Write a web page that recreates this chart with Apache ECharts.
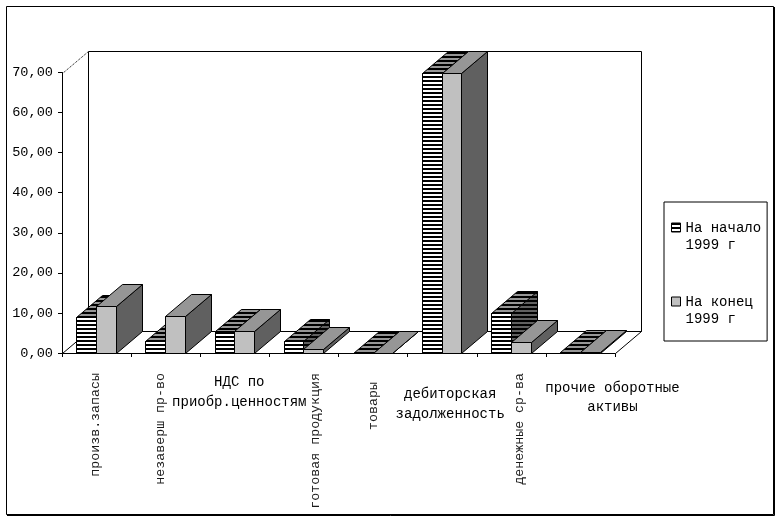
<!DOCTYPE html>
<html><head><meta charset="utf-8">
<script src="https://cdn.jsdelivr.net/npm/echarts/dist/echarts.min.js"></script>
<style>html,body{margin:0;padding:0;background:#fff}#c{width:781px;height:521px}</style>
</head><body><div id="c"></div><script>
// ---- data ----
const categories = ['произв.запасы', 'незаверш пр-во', 'НДС по\nприобр.ценностям', 'готовая продукция', 'товары', 'дебиторская\nзадолженность', 'денежные ср-ва', 'прочие оборотные\nактивы'];
const seriesNames = ['На начало\n1999 г', 'На конец\n1999 г'];
const startValues = [8.9, 3.1, 5.5, 3.0, 0.1, 69.9, 9.9, 0.3];
const endValues = [11.7, 9.2, 5.4, 0.9, 0.1, 69.8, 2.8, 0.2];
const yMin = 0, yMax = 70, yStep = 10;

// ---- layout / style ----
const rotatedLabels = [true, true, false, true, true, false, true, false];
const FONT = 'Liberation Mono';
const DX = 26, DY = -22, BAR_FRAC = 0.285;
const rotRich = {
  r0: {padding: [0, 0, 3, 0]}, r1: {padding: [0, 0, 11, 0]}, r3: {padding: [23, 0, 0, 0]},
  r4: {padding: [0, 9, 0, 0]}, r6: {padding: [16, 0, 0, 0]}
};
const horRich = {
  h2: {lineHeight: 20, padding: [0, 0, 0, 9]},
  h5: {lineHeight: 20, padding: [24, 0, 0, 16]},
  h7: {lineHeight: 19, padding: [14, 0, 0, 64]}
};
const legendRich = {t: {lineHeight: 17, padding: [18, 0, 0, 0]}};

function stripe(c1, c2) {
  const cv = document.createElement('canvas'); cv.width = 4; cv.height = 4;
  const g = cv.getContext('2d');
  g.fillStyle = c2; g.fillRect(0, 0, 4, 4);
  g.fillStyle = c1; g.fillRect(0, 0, 4, 2);
  return {image: cv, repeat: 'repeat'};
}
const faces = [
  {front: stripe('#000', '#fff'), top: stripe('#000', '#969696'), side: stripe('#000', '#606060')},
  {front: '#c0c0c0', top: '#969696', side: '#606060'}
];
const px = v => Math.round(v) + 0.5;

function barRenderer(si) {
  const f = faces[si];
  return function (params, api) {
    const idx = api.value(0), v = api.value(1);
    const p0 = api.coord([idx, 0]);
    const p1 = api.coord([idx, v]);
    const band = api.size([1, 0])[0];
    const w = band * BAR_FRAC;
    const xc = p0[0] - 0.5;
    const x0 = px(si === 0 ? xc - w : xc);
    const x1 = px(si === 0 ? xc : xc + w);
    const yb = px(p0[1]), yt = px(p1[1]);
    const st = {stroke: '#000', lineWidth: 1};
    return {type: 'group', children: [
      {type: 'polygon', shape: {points: [[x1, yt], [x1 + DX, yt + DY], [x1 + DX, yb + DY], [x1, yb]]}, style: Object.assign({fill: f.side}, st)},
      {type: 'polygon', shape: {points: [[x0, yt], [x0 + DX, yt + DY], [x1 + DX, yt + DY], [x1, yt]]}, style: Object.assign({fill: f.top}, st)},
      {type: 'polygon', shape: {points: [[x0, yt], [x1, yt], [x1, yb], [x0, yb]]}, style: Object.assign({fill: f.front}, st)}
    ]};
  };
}

function wallRenderer(params, api) {
  const cs = params.coordSys;
  const x = px(cs.x), y = px(cs.y), x2 = px(cs.x + cs.width), y2 = px(cs.y + cs.height);
  const st = {stroke: '#000', lineWidth: 1, fill: '#fff'};
  return {type: 'group', children: [
    {type: 'polygon', shape: {points: [[x + DX, y + DY], [x2 + DX, y + DY], [x2 + DX, y2 + DY], [x + DX, y2 + DY]]}, style: st},
    {type: 'polygon', shape: {points: [[x, y2], [x2, y2], [x2 + DX, y2 + DY], [x + DX, y2 + DY]]}, style: st},
    {type: 'line', shape: {x1: x, y1: y, x2: x + DX, y2: y + DY}, style: {stroke: '#000', lineWidth: 1, lineDash: [1, 1]}}
  ]};
}

const chart = echarts.init(document.getElementById('c'));
chart.setOption({
  animation: false,
  backgroundColor: '#fff',
  graphic: [
    {type: 'rect', shape: {x: 6.5, y: 6.5, width: 767, height: 508}, style: {fill: 'none', stroke: '#000', lineWidth: 1}, silent: true},
    {type: 'polyline', shape: {points: [[774.5, 7], [774.5, 515.5], [7, 515.5]]}, style: {fill: 'none', stroke: '#000', lineWidth: 1}, silent: true}
  ],
  grid: {left: 62, right: 166, top: 72.5, bottom: 168},
  legend: {
    orient: 'vertical', left: 664, top: 202, icon: 'rect', itemWidth: 9, itemHeight: 9, itemGap: 25,
    padding: [1, 6, 15, 7], borderColor: '#000', borderWidth: 1, selectedMode: false,
    formatter: name => name.split('\n').map(s => '{t|' + s + '}').join('\n'),
    textStyle: {fontFamily: FONT, fontSize: 14, color: '#000', lineHeight: 17, rich: legendRich},
    data: [
      {name: seriesNames[0], itemStyle: {color: faces[0].front, borderColor: '#000', borderWidth: 1}},
      {name: seriesNames[1], itemStyle: {color: '#c0c0c0', borderColor: '#000', borderWidth: 1}}
    ]
  },
  xAxis: [
    {type: 'category', data: categories, position: 'bottom',
     axisLine: {lineStyle: {color: '#000', width: 1}},
     axisTick: {show: true, length: 4, lineStyle: {color: '#000'}},
     axisLabel: {interval: 0, rotate: 90, margin: 20, fontFamily: FONT, fontSize: 13.3, color: '#1a1a1a',
       formatter: (v, i) => rotatedLabels[i] ? '{r' + i + '|' + v + '}' : '', rich: rotRich},
     splitLine: {show: false}},
    {type: 'category', data: categories, position: 'bottom',
     axisLine: {show: false}, axisTick: {show: false},
     axisLabel: {interval: 0, rotate: 0, margin: 19, fontFamily: FONT, fontSize: 14, color: '#000',
       formatter: (v, i) => rotatedLabels[i] ? '' : v.split('\n').map(s => '{h' + i + '|' + s + '}').join('\n'), rich: horRich},
     splitLine: {show: false}}
  ],
  yAxis: {
    type: 'value', min: yMin, max: yMax, interval: yStep,
    axisLine: {show: true, lineStyle: {color: '#000', width: 1}},
    axisTick: {show: true, length: 4, lineStyle: {color: '#000'}},
    splitLine: {show: false},
    axisLabel: {margin: 9, fontFamily: FONT, fontSize: 13.6, color: '#000',
      formatter: v => v.toFixed(2).replace('.', ',')}
  },
  series: [
    {type: 'custom', renderItem: wallRenderer, data: [[0, 0]], encode: {x: 0, y: 1}, clip: false, silent: true, z: 1},
    {type: 'custom', name: seriesNames[0], renderItem: barRenderer(0), data: startValues.map((v, i) => [i, v]),
     encode: {x: 0, y: 1}, clip: false, itemStyle: {color: faces[0].front}, z: 2},
    {type: 'custom', name: seriesNames[1], renderItem: barRenderer(1), data: endValues.map((v, i) => [i, v]),
     encode: {x: 0, y: 1}, clip: false, itemStyle: {color: '#c0c0c0'}, z: 3}
  ]
});
</script></body></html>
